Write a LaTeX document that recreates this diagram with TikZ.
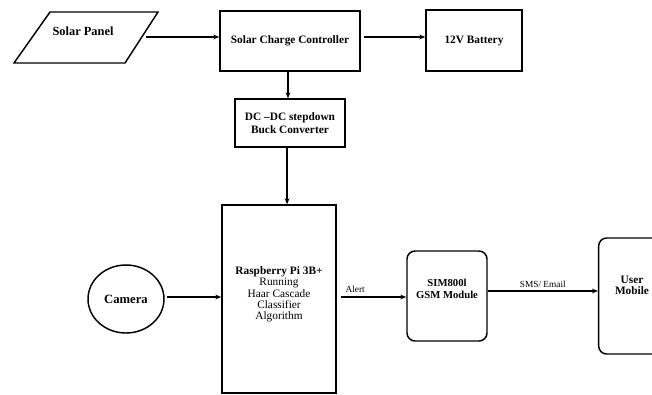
\documentclass[tikz,border=0pt]{standalone}
\usepackage{fontspec}
\setmainfont{Liberation Serif}
\usetikzlibrary{arrows.meta,shapes.geometric}
\def\px{0.75pt}
\begin{document}
\begin{tikzpicture}[x=0.75pt,y=-0.75pt,
  box/.style={draw, line width=1.1pt, align=center, inner sep=0pt,
    font=\bfseries\fontsize{8.5}{9.5}\selectfont},
  plain/.style={draw, line width=1.1pt, align=center, inner sep=0pt,
    font=\fontsize{8.5}{8.4}\selectfont},
  arr/.style={line width=0.9pt, -{Stealth[length=4.5pt,width=3.6pt]}},
  lbl/.style={font=\fontsize{7}{8}\selectfont, inner sep=1pt}]
\useasboundingbox (0,0) rectangle (652,394);
\clip (0,0) rectangle (652,394);

% Solar panel (parallelogram)
\draw[line width=1.1pt] (50,12) -- (158,12) -- (125,63) -- (14,63) -- cycle;
\node[inner sep=0pt, minimum width=138*\px, minimum height=51*\px,
  font=\bfseries\fontsize{9.3}{10}\selectfont] (sp) at (83,37.5) {\raisebox{1.5pt}[0pt][0pt]{Solar Panel}};

\node[box, minimum width=140*\px, minimum height=60*\px] (scc) at (290,41) {Solar Charge Controller};
\node[box, minimum width=96*\px, minimum height=61*\px] (bat) at (474,40.5) {12V Battery};
\node[box, minimum width=110*\px, minimum height=48*\px] (dc) at (290,123) {DC –DC stepdown\\Buck Converter};
\node[plain, minimum width=114*\px, minimum height=188*\px] (rpi) at (279,299)
  {\raisebox{1.5pt}[0pt][0pt]{\parbox{80pt}{\centering{\bfseries Raspberry Pi 3B+}\\Running\\Haar Cascade\\Classifier\\Algorithm}}};
\node[box, ellipse, minimum width=76*\px, minimum height=68*\px,
  font=\bfseries\fontsize{9.5}{10}\selectfont] (cam) at (126,299) {Camera};
\node[box, rounded corners=6pt, minimum width=72*\px, minimum height=90*\px,
  font=\bfseries\fontsize{8}{8.6}\selectfont] (sim) at (447,296) {\raisebox{3.5pt}[0pt][0pt]{\parbox{60pt}{\centering SIM800l\\GSM Module}}};
\node[box, rounded corners=6pt, minimum width=66*\px, minimum height=116*\px,
  font=\bfseries\fontsize{8.5}{8.6}\selectfont] (usr) at (632,296) {\raisebox{5.8pt}[0pt][0pt]{\parbox{50pt}{\centering User\\Mobile}}};

\draw[arr] ([xshift=-4.5pt,yshift=0.4pt]sp.east) -- ([yshift=0.4pt]sp.east -| scc.west);
\draw[arr] ([xshift=2.2pt,yshift=3pt]scc.east) -- ([yshift=3pt]scc.east -| bat.west);
\draw[arr] ([xshift=-1.5pt]scc.south) -- ([xshift=-1.5pt]dc.north);
\draw[arr] ([xshift=-2.2pt]dc.south) -- ([xshift=-2.2pt]dc.south |- rpi.north);
\draw[arr] ([xshift=2pt,yshift=1.5pt]cam.east) -- ([yshift=1.5pt]cam.east -| rpi.west);
\draw[arr] ([xshift=3pt,yshift=1.5pt]rpi.east) -- ([yshift=1.5pt]rpi.east -| sim.west)
  node[lbl, pos=0.22, above=2pt] {Alert};
\draw[arr] ([yshift=3.75pt]sim.east) -- ([yshift=3.75pt]sim.east -| usr.west)
  node[lbl, midway, above=1pt] {SMS/ Email};
\end{tikzpicture}
\end{document}
